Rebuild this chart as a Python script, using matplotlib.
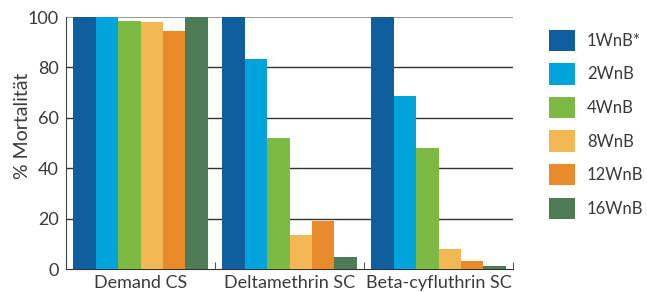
import numpy as np
import matplotlib.pyplot as plt

categories = ['Demand CS', 'Deltamethrin SC', 'Beta-cyfluthrin SC']
series = ['1WnB*', '2WnB', '4WnB', '8WnB', '12WnB', '16WnB']
wnb1 = [100, 100, 100]
wnb2 = [100, 83.3, 68.7]
wnb4 = [98.4, 52.1, 48.1]
wnb8 = [98.0, 13.5, 8.1]
wnb12 = [94.4, 19.2, 3.3]
wnb16 = [100, 4.8, 1.3]
colors = ['#0F5F9E', '#00A3DC', '#7DBA43', '#F3B853', '#E98B2A', '#4C7B56']

plt.rcParams['font.family'] = ['Lato', 'DejaVu Sans']
txt = '#3a3a3a'

fig = plt.figure(figsize=(6.47, 2.92), dpi=100)
ax = fig.add_axes([66/647, 1-269/292, 447/647, 252/292])

data = [wnb1, wnb2, wnb4, wnb8, wnb12, wnb16]
x = np.arange(len(categories))
w = 0.151
for i, vals in enumerate(data):
    ax.bar(x + (i - 2.5) * w, vals, w, color=colors[i], label=series[i], zorder=3)

ax.set_xlim(-0.5, 2.5)
ax.set_ylim(0, 100)
ax.set_yticks([0, 20, 40, 60, 80, 100])
for yv in [20, 40, 60, 80]:
    ax.axhline(yv, color='#333333', lw=1, zorder=1)
ax.axhline(100, color='#888888', lw=1.2, zorder=1)

ax.set_xticks(x)
ax.set_xticklabels(categories)
ax.set_xticks([0.5, 1.5, 2.5], minor=True)
ax.tick_params(axis='x', which='major', length=0, pad=4, labelsize=13, colors=txt)
ax.tick_params(axis='x', which='minor', direction='in', length=5, color='#333333')
ax.tick_params(axis='y', length=0, pad=5, labelsize=13, colors=txt)

for s in ['top', 'right']:
    ax.spines[s].set_visible(False)
ax.spines['left'].set_color('#444444')
ax.spines['bottom'].set_color('#333333')
ax.spines['left'].set_zorder(4)

ax.set_ylabel('% Mortalität', fontsize=14, color=txt)
ax.yaxis.set_label_coords(-0.078, 0.567)

leg = fig.legend(loc='upper left', bbox_to_anchor=(542/647, 1-23/292), frameon=False,
                 fontsize=12, labelcolor=txt, handlelength=1.6, handleheight=1.6,
                 labelspacing=0.73, handletextpad=0.7, borderaxespad=0)

fig.savefig('out.png', dpi=100)
